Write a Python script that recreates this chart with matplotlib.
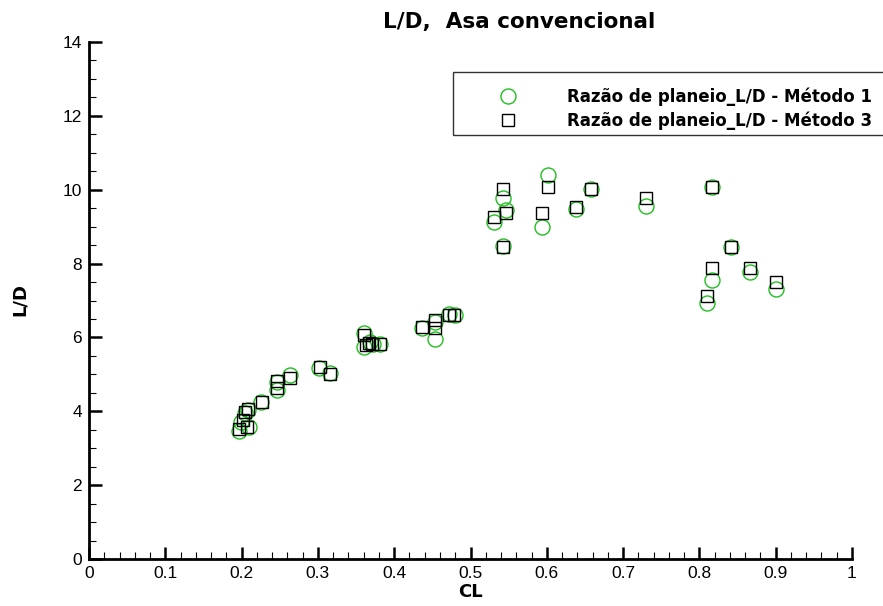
import matplotlib.pyplot as plt
from matplotlib.patches import Rectangle
from matplotlib.ticker import MultipleLocator

# CL / L-D pairs
cl_m1 = [0.196, 0.210, 0.199, 0.204, 0.209, 0.225, 0.246, 0.247, 0.263, 0.302,
         0.316, 0.361, 0.361, 0.368, 0.372, 0.381, 0.437, 0.454, 0.454, 0.472,
         0.480, 0.531, 0.542, 0.547, 0.542, 0.594, 0.602, 0.638, 0.658, 0.730,
         0.810, 0.817, 0.817, 0.842, 0.866, 0.901]
ld_m1 = [3.47, 3.58, 3.72, 3.95, 4.04, 4.26, 4.78, 4.58, 4.98, 5.16,
         5.03, 6.11, 5.75, 5.88, 5.83, 5.82, 6.25, 6.43, 5.95, 6.63,
         6.61, 9.13, 9.77, 9.45, 8.48, 8.98, 10.40, 9.47, 10.03, 9.57,
         6.92, 7.55, 10.07, 8.44, 7.78, 7.31]

cl_m3 = [0.196, 0.207, 0.202, 0.204, 0.209, 0.227, 0.247, 0.247, 0.263, 0.303,
         0.316, 0.360, 0.363, 0.367, 0.371, 0.381, 0.437, 0.454, 0.454, 0.472,
         0.479, 0.531, 0.542, 0.547, 0.542, 0.594, 0.602, 0.638, 0.658, 0.730,
         0.810, 0.817, 0.817, 0.842, 0.866, 0.901]
ld_m3 = [3.51, 3.58, 3.76, 3.99, 4.05, 4.24, 4.83, 4.62, 4.89, 5.21,
         5.00, 6.07, 5.80, 5.86, 5.82, 5.82, 6.29, 6.47, 6.25, 6.61,
         6.61, 9.25, 10.01, 9.38, 8.46, 9.36, 10.08, 9.54, 10.03, 9.77,
         7.12, 7.89, 10.07, 8.44, 7.87, 7.51]

label_m1 = "Razão de planeio_L/D - Método 1"
label_m3 = "Razão de planeio_L/D - Método 3"

W, H = 883, 606
fig = plt.figure(figsize=(W / 100, H / 100), dpi=100)
ax = fig.add_axes([89 / W, 1 - 559 / H, (852 - 89) / W, (559 - 42) / H])

ax.plot(cl_m1, ld_m1, 'o', ms=10.8, mfc='none', mec='#1fbf1f', mew=1.0,
        label=label_m1, clip_on=False)
ax.plot(cl_m3, ld_m3, 's', ms=8.0, mfc='none', mec='black', mew=1.0,
        label=label_m3, clip_on=False)

ax.set_xlim(0, 1)
ax.set_ylim(0, 14)
ax.xaxis.set_minor_locator(MultipleLocator(0.02))
ax.yaxis.set_major_locator(MultipleLocator(2))
ax.yaxis.set_minor_locator(MultipleLocator(0.5))
ax.set_xticks([0, 0.1, 0.2, 0.3, 0.4, 0.5, 0.6, 0.7, 0.8, 0.9, 1])
ax.set_xticklabels(['0', '0.1', '0.2', '0.3', '0.4', '0.5', '0.6', '0.7', '0.8', '0.9', '1'])

for s in ['top', 'right']:
    ax.spines[s].set_visible(False)
for s in ['left', 'bottom']:
    ax.spines[s].set_linewidth(2.0)

ax.tick_params(which='major', direction='in', length=9, width=1.8,
               labelsize=12.5, pad=5)
ax.tick_params(which='minor', direction='in', length=5, width=0.8)
for lab in ax.get_xticklabels() + ax.get_yticklabels():
    lab.set_family('Liberation Sans')

fig.text(519 / W, 1 - 22 / H, "L/D,  Asa convencional", ha='center', va='center',
         fontsize=15.5, fontweight='bold')
fig.text(470 / W, 1 - 592 / H, "CL", ha='center', va='center',
         fontsize=13, fontweight='bold')
fig.text(20 / W, 1 - 300 / H, "L/D", ha='center', va='center', rotation=90,
         fontsize=13, fontweight='bold')

# legend box runs off the right edge like the original
fig.patches.append(Rectangle((453 / W, 1 - 135 / H), 440 / W, 63 / H,
                             transform=fig.transFigure, fill=False,
                             edgecolor='#333333', linewidth=1.0))
leg = fig.legend(loc='upper left', bbox_to_anchor=(491 / W, 1 - 87 / H),
                 frameon=False, borderpad=0, borderaxespad=0,
                 handlelength=2, handletextpad=2.55, labelspacing=0.35,
                 prop={'weight': 'bold', 'size': 12})

fig.savefig('out.png', dpi=100)
